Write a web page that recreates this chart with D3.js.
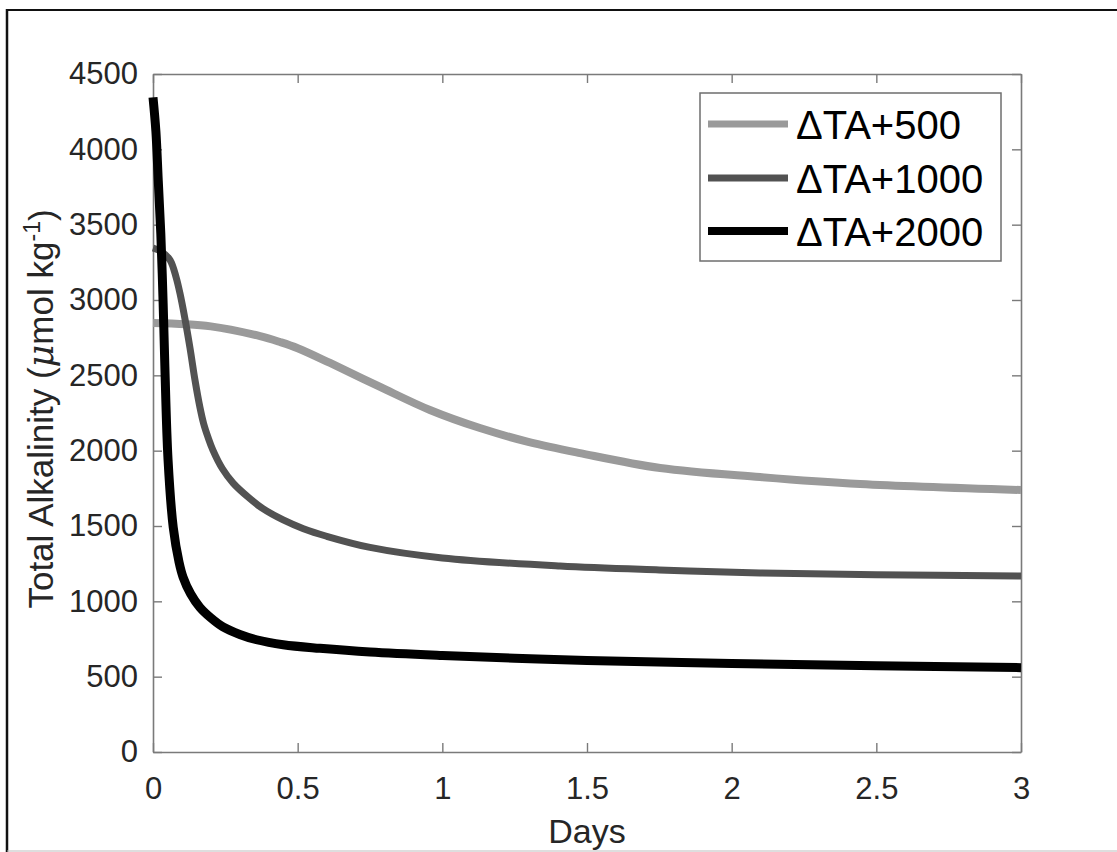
<!DOCTYPE html>
<html>
<head>
<meta charset="utf-8">
<script src="https://cdn.jsdelivr.net/npm/d3@7"></script>
<style>
  html, body { margin: 0; padding: 0; background: #fff; }
  svg { display: block; font-family: Arial, "Liberation Sans", sans-serif; }
</style>
</head>
<body>
<svg id="chart" width="1117" height="852"></svg>
<script>
// Alkalinity decay after three alkalinity additions (days vs µmol/kg)
const seriesNames = ["\u0394TA+500", "\u0394TA+1000", "\u0394TA+2000"];

const daysTA500 = [0, 0.2, 0.37, 0.439, 0.5, 0.612, 0.785, 0.957, 1.13, 1.30, 1.476, 1.753, 2.098, 2.444, 3.0];
const valuesTA500 = [2847, 2825, 2760, 2721, 2680, 2582, 2423, 2270, 2150, 2057, 1984, 1885, 1825, 1779, 1739];

const daysTA1000 = [0, 0.03, 0.059, 0.08, 0.093, 0.11, 0.128, 0.145, 0.162, 0.175, 0.19, 0.207, 0.24, 0.277, 0.33, 0.38, 0.45, 0.52, 0.6, 0.75, 1.0, 1.407, 1.75, 2.098, 2.5, 3.0];
const valuesTA1000 = [3345, 3320, 3265, 3150, 3046, 2880, 2680, 2470, 2290, 2180, 2090, 2004, 1880, 1785, 1690, 1615, 1540, 1482, 1432, 1358, 1288, 1234, 1208, 1188, 1177, 1168];

const daysTA2000 = [0, 0.01, 0.018, 0.027, 0.035, 0.041, 0.052, 0.07, 0.09, 0.104, 0.13, 0.162, 0.2, 0.242, 0.3, 0.358, 0.45, 0.577, 0.75, 1.0, 1.25, 1.5, 2.0, 2.5, 3.0];
const valuesTA2000 = [4345, 4120, 3800, 3440, 2980, 2560, 1940, 1490, 1260, 1160, 1050, 960, 890, 830, 780, 745, 712, 688, 663, 640, 622, 608, 588, 573, 560];

const xTicks = [0, 0.5, 1, 1.5, 2, 2.5, 3];
const xTickLabels = ["0", "0.5", "1", "1.5", "2", "2.5", "3"];
const yTicks = [0, 500, 1000, 1500, 2000, 2500, 3000, 3500, 4000, 4500];

const lineColors = ["#9a9a9a", "#525252", "#000000"];
const lineWidths = [8, 7, 9];

const series = [
  { name: seriesNames[0], days: daysTA500, values: valuesTA500 },
  { name: seriesNames[1], days: daysTA1000, values: valuesTA1000 },
  { name: seriesNames[2], days: daysTA2000, values: valuesTA2000 }
];

const svg = d3.select("#chart");
const plot = { left: 153, right: 1021, top: 74, bottom: 752 };

const x = d3.scaleLinear().domain([0, 3]).range([plot.left, plot.right]);
const y = d3.scaleLinear().domain([0, 4500]).range([plot.bottom, plot.top]);

const axisColor = "#7a7a7a";
const textColor = "#262626";

// outer frame of the figure
svg.append("line").attr("x1", 6).attr("x2", 1117).attr("y1", 10).attr("y2", 10)
  .attr("stroke", "#111").attr("stroke-width", 1.8);
svg.append("line").attr("x1", 7).attr("x2", 7).attr("y1", 9).attr("y2", 852)
  .attr("stroke", "#111").attr("stroke-width", 2.5);
svg.append("line").attr("x1", 7).attr("x2", 1117).attr("y1", 851).attr("y2", 851)
  .attr("stroke", "#bdbdbd").attr("stroke-width", 1);

// axes: inward ticks on all four sides
const tickLen = 9;
const bottomAxis = d3.axisBottom(x).tickValues(xTicks)
  .tickFormat((d, i) => xTickLabels[i]).tickSizeInner(-tickLen).tickSizeOuter(0).tickPadding(25);
const topAxis = d3.axisTop(x).tickValues(xTicks).tickFormat("").tickSizeInner(-tickLen).tickSizeOuter(0);
const leftAxis = d3.axisLeft(y).tickValues(yTicks).tickFormat(d3.format("d"))
  .tickSizeInner(-tickLen).tickSizeOuter(0).tickPadding(15);
const rightAxis = d3.axisRight(y).tickValues(yTicks).tickFormat("").tickSizeInner(-tickLen).tickSizeOuter(0);

function styleAxis(g) {
  g.select(".domain").attr("stroke", axisColor).attr("stroke-width", 1.6);
  g.selectAll(".tick line").attr("stroke", axisColor).attr("stroke-width", 1.4);
  g.selectAll(".tick text").attr("fill", textColor).style("font-size", "31px")
    .style("font-family", "Arial, 'Liberation Sans', sans-serif");
}

svg.append("g").attr("transform", `translate(0,${plot.bottom})`).call(bottomAxis).call(styleAxis)
  .selectAll(".tick text").attr("dy", "0.71em");
svg.append("g").attr("transform", `translate(0,${plot.top})`).call(topAxis).call(styleAxis);
svg.append("g").attr("transform", `translate(${plot.left},0)`).call(leftAxis).call(styleAxis);
svg.append("g").attr("transform", `translate(${plot.right},0)`).call(rightAxis).call(styleAxis);

// curves
const line = d3.line()
  .x(d => x(d[0]))
  .y(d => y(d[1]))
  .curve(d3.curveCatmullRom.alpha(0.5));

series.forEach((s, i) => {
  const pts = s.days.map((d, k) => [d, s.values[k]]);
  svg.append("path")
    .datum(pts)
    .attr("d", line)
    .attr("fill", "none")
    .attr("stroke", lineColors[i])
    .attr("stroke-width", lineWidths[i])
    .attr("stroke-linejoin", "round");
});

// axis titles
svg.append("text")
  .attr("x", (plot.left + plot.right) / 2)
  .attr("y", 843)
  .attr("text-anchor", "middle")
  .attr("fill", textColor)
  .style("font-size", "34px")
  .text("Days");

const yTitle = svg.append("text")
  .attr("transform", `translate(53,${(plot.top + plot.bottom) / 2 - 4}) rotate(-90)`)
  .attr("text-anchor", "middle")
  .attr("fill", textColor)
  .style("font-size", "35px");
yTitle.append("tspan").text("Total Alkalinity (");
yTitle.append("tspan").text("\u03BC").style("font-style", "italic")
  .style("font-family", "'DejaVu Serif', 'Liberation Serif', serif");
yTitle.append("tspan").text("mol kg");
yTitle.append("tspan").text("-1").attr("dy", "-0.55em").style("font-size", "23px");
yTitle.append("tspan").text(")").attr("dy", "0.38em");

// legend
const legend = svg.append("g");
legend.append("rect")
  .attr("x", 700).attr("y", 93).attr("width", 301).attr("height", 168)
  .attr("fill", "#fff").attr("stroke", "#6e6e6e").attr("stroke-width", 1.5);

const legendRows = [124, 178, 231];
const legendWidths = [7, 7, 8];
series.forEach((s, i) => {
  legend.append("line")
    .attr("x1", 708).attr("x2", 788)
    .attr("y1", legendRows[i]).attr("y2", legendRows[i])
    .attr("stroke", lineColors[i]).attr("stroke-width", legendWidths[i]);
  legend.append("text")
    .attr("x", 796).attr("y", legendRows[i] + 15)
    .attr("fill", "#000")
    .style("font-size", "40px")
    .text(s.name);
});
</script>
</body>
</html>
